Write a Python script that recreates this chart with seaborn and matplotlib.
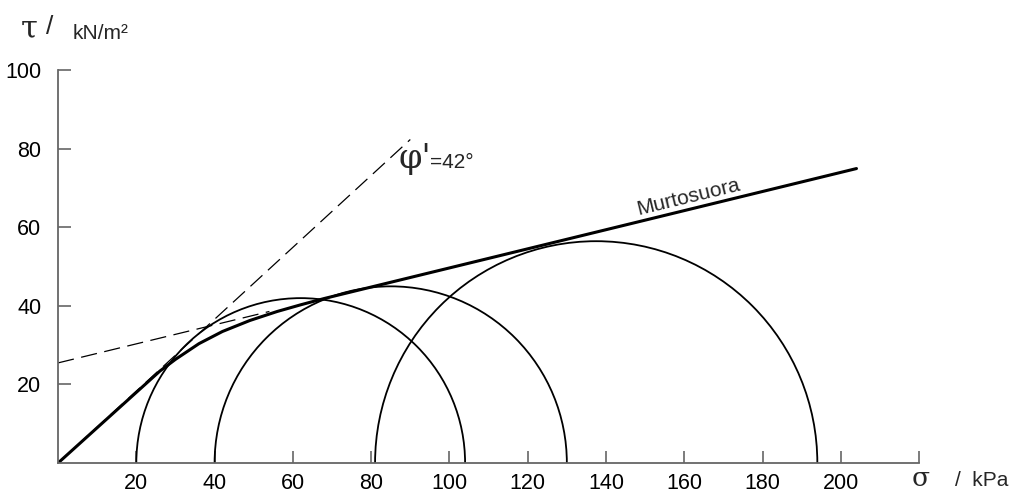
import numpy as np
import pandas as pd
import matplotlib
matplotlib.use("Agg")
import matplotlib.pyplot as plt
from matplotlib.patches import Arc
import seaborn as sns

# Mohr circles: (sigma3, sigma1) in kPa
sigma3 = [20, 40, 81]
sigma1 = [104, 130, 194]

# failure envelope (bold)
env_sigma = [0, 26, 30, 36, 42, 49, 56, 62, 68, 204]
env_tau = [0, 23.4, 26.4, 30.4, 33.5, 36.3, 38.6, 40.3, 41.9, 75]

# dashed helper lines
phi_sigma = [0, 90]
phi_tau = [0, 82.4]
ext_sigma = [0, 54]
ext_tau = [25.5, 38.6]

x_ticks = [20, 40, 60, 80, 100, 120, 140, 160, 180, 200, 220]
y_ticks = [20, 40, 60, 80, 100]

sns.set_style("white")
plt.rcParams['font.family'] = ['Liberation Sans', 'DejaVu Sans']

fig = plt.figure(figsize=(10.13, 4.92), dpi=100)
ax = fig.add_axes([0.0573, 0.0589, 0.850, 0.798])

# dashed lines
sns.lineplot(x=phi_sigma, y=phi_tau, ax=ax, color='black', lw=0.9,
             linestyle=(0, (13, 6)), sort=False)
sns.lineplot(x=ext_sigma, y=ext_tau, ax=ax, color='black', lw=0.9,
             linestyle=(0, (13, 6)), sort=False)

# circles
for s3, s1 in zip(sigma3, sigma1):
    c = (s3 + s1) / 2
    d = s1 - s3
    ax.add_patch(Arc((c, 0), d, d, theta1=0, theta2=180, color='black', lw=1.3))

# envelope
sns.lineplot(x=env_sigma, y=env_tau, ax=ax, color='black', lw=2.2, sort=False)

ax.set_xlim(0, 220)
ax.set_ylim(0, 100)
ax.set_xticks(x_ticks)
ax.set_xticklabels([str(v) for v in x_ticks[:-1]] + [''])
ax.set_yticks(y_ticks)
ax.set_yticklabels([str(v) for v in y_ticks])

for side in ['top', 'right']:
    ax.spines[side].set_visible(False)
for side in ['left', 'bottom']:
    ax.spines[side].set_color('#666666')
    ax.spines[side].set_linewidth(1.3)

ax.tick_params(axis='both', direction='in', length=9, width=1.2,
               color='#666666', labelsize=15.5, labelcolor='black',
               bottom=True, left=True)
ax.tick_params(axis='x', pad=7)
ax.tick_params(axis='y', pad=12)
ax.set_xlabel('')
ax.set_ylabel('')

# axis titles
fig.text(21 / 1013, 1 - 29 / 492, 'τ', fontsize=22, family='DejaVu Serif',
         va='center', ha='left')
fig.text(46 / 1013, 1 - 27 / 492, '/', fontsize=19, va='center', ha='left')
fig.text(73 / 1013, 1 - 33 / 492, 'kN/m²', fontsize=15, va='center', ha='left')

fig.text(912 / 1013, 1 - 491 / 492, 'σ', fontsize=19, family='DejaVu Serif',
         va='bottom', ha='left')
fig.text(955 / 1013, 1 - 481 / 492, '/  kPa', fontsize=15, va='center', ha='left')

# annotations
ax.text(87, 77.5, "φ'", fontsize=24, family='DejaVu Serif', va='center', ha='left')
ax.text(95, 76.5, '=42°', fontsize=15, va='center', ha='left')
ax.text(161, 67.7, 'Murtosuora', fontsize=15, rotation=13.7,
        rotation_mode='anchor', va='center', ha='center')

fig.savefig('out.png', dpi=100)
